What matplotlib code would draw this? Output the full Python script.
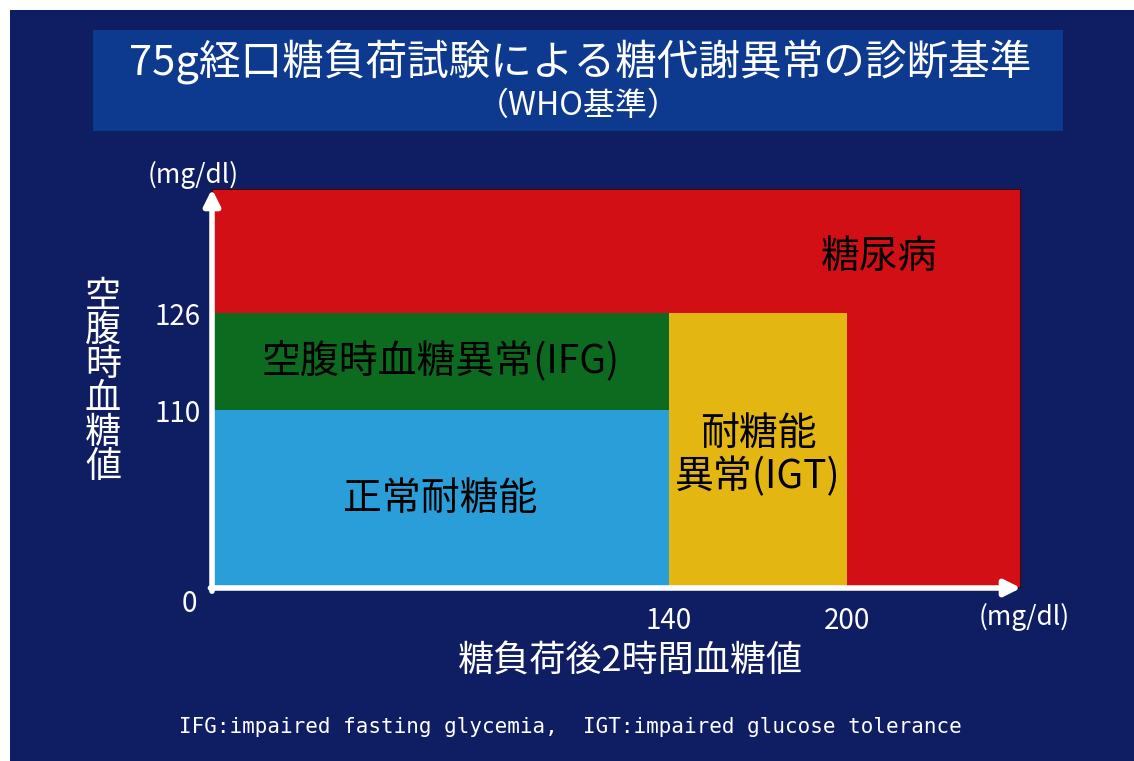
import numpy as np
import matplotlib.pyplot as plt
from matplotlib.patches import Rectangle

plt.rcParams['font.family'] = ['Noto Sans CJK JP', 'DejaVu Sans']

# 区分ごとの範囲 (mg/dl)
zones = ['糖尿病', '耐糖能\n異常(IGT)', '空腹時血糖異常(IFG)', '正常耐糖能']
x_lo = [0, 140, 0, 0]
x_hi = [260, 200, 140, 140]
y_lo = [0, 0, 110, 0]
y_hi = [170, 126, 126, 110]
zone_colors = ['#d20f14', '#e4b612', '#0c6b1f', '#2a9ed8']
label_x = [211, 170, 70, 70]
label_y = [146, 82, 118, 55]

x_ticks = [140, 200]
y_ticks = [110, 126]

# 模式図なので軸は区間ごとに伸縮させる
x_breaks = [0, 140, 200, 260]
x_frac = [0, 0.5647, 0.7855, 1.0]
y_breaks = [0, 110, 126, 170]
y_frac = [0, 0.446, 0.689, 1.0]

navy = '#0f1d62'
W, H = 1134, 761
fig = plt.figure(figsize=(W / 100, H / 100), dpi=100, facecolor='white')

# 背景とタイトル枠
fig.patches.append(Rectangle((10 / W, 0), 1, 1 - 10 / H, transform=fig.transFigure,
                             facecolor=navy, edgecolor='none', zorder=-10))
fig.patches.append(Rectangle((93 / W, 1 - 131 / H), 970 / W, 101 / H, transform=fig.transFigure,
                             facecolor='#0d3a8e', edgecolor='none', zorder=-9))
fig.text(580 / W, 1 - 62 / H, '75g経口糖負荷試験による糖代謝異常の診断基準',
         color='white', fontsize=30, ha='center', va='center')
fig.text(578 / W, 1 - 106 / H, '（WHO基準）', color='white', fontsize=23,
         ha='center', va='center')

ax = fig.add_axes([212 / W, 1 - 588 / H, (1021 - 212) / W, (588 - 189) / H])
ax.patch.set_alpha(0)
ax.set_xscale('function', functions=(lambda v: np.interp(v, x_breaks, x_frac),
                                     lambda p: np.interp(p, x_frac, x_breaks)))
ax.set_yscale('function', functions=(lambda v: np.interp(v, y_breaks, y_frac),
                                     lambda p: np.interp(p, y_frac, y_breaks)))
ax.set_xlim(0, 260)
ax.set_ylim(0, 170)

for i, name in enumerate(zones):
    ax.add_patch(Rectangle((x_lo[i], y_lo[i]), x_hi[i] - x_lo[i], y_hi[i] - y_lo[i],
                           facecolor=zone_colors[i],
                           edgecolor='#300000' if i == 0 else 'none', lw=1.2))
    ax.text(label_x[i], label_y[i], name, fontsize=28, color='black',
            ha='center', va='center', linespacing=1.1)

for s in ax.spines.values():
    s.set_visible(False)
ax.set_xticks(x_ticks)
ax.set_yticks(y_ticks)
ax.tick_params(length=0, labelcolor='white', labelsize=20)
ax.tick_params(axis='x', pad=13)
ax.tick_params(axis='y', pad=8)

# 軸の矢印
arrow = dict(arrowstyle='-|>', color='white', lw=4, mutation_scale=24, shrinkA=0, shrinkB=0)
ax.annotate('', xy=(0, 1.0), xytext=(0, -0.008), xycoords='axes fraction', arrowprops=arrow)
ax.annotate('', xy=(1.0, 0), xytext=(-0.002, 0), xycoords='axes fraction', arrowprops=arrow)

ax.text(-0.028, -0.04, '0', transform=ax.transAxes, color='white', fontsize=20,
        ha='center', va='center')
fig.text(193 / W, 1 - 175 / H, '(mg/dl)', color='white', fontsize=19, ha='center', va='center')
fig.text(1024 / W, 1 - 617 / H, '(mg/dl)', color='white', fontsize=19, ha='center', va='center')

# 縦書きの軸ラベル
for k, ch in enumerate('空腹時血糖値'):
    fig.text(103 / W, 1 - (297 + 34 * k) / H, ch, color='white', fontsize=26,
             ha='center', va='center')
fig.text(630 / W, 1 - 662 / H, '糖負荷後2時間血糖値', color='white', fontsize=26,
         ha='center', va='center')

fig.text(570 / W, 1 - 727 / H, 'IFG:impaired fasting glycemia,  IGT:impaired glucose tolerance',
         color='white', fontsize=15, family='DejaVu Sans Mono', ha='center', va='center')

fig.savefig('out.png', dpi=100, facecolor='white')
